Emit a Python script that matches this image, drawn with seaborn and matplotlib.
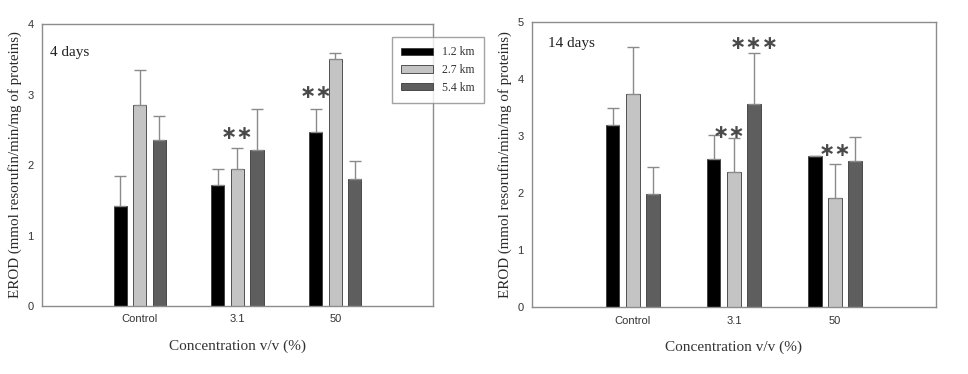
import numpy as np
import pandas as pd
import matplotlib
matplotlib.use("Agg")
import matplotlib.pyplot as plt
import seaborn as sns
from matplotlib.patches import Patch

categories = ["Control", "3.1", "50"]
series = ["1.2 km", "2.7 km", "5.4 km"]

# 4 days
means_4d = {
    "1.2 km": [1.42, 1.71, 2.47],
    "2.7 km": [2.85, 1.95, 3.50],
    "5.4 km": [2.35, 2.21, 1.80],
}
err_4d = {
    "1.2 km": [0.42, 0.23, 0.33],
    "2.7 km": [0.50, 0.29, 0.09],
    "5.4 km": [0.35, 0.58, 0.26],
}
# 14 days
means_14d = {
    "1.2 km": [3.19, 2.60, 2.65],
    "2.7 km": [3.74, 2.37, 1.92],
    "5.4 km": [1.98, 3.56, 2.57],
}
err_14d = {
    "1.2 km": [0.31, 0.42, 0.0],
    "2.7 km": [0.83, 0.60, 0.59],
    "5.4 km": [0.49, 0.90, 0.42],
}

palette = ["#000000", "#c4c4c4", "#5e5e5e"]

sns.set_style("white")
plt.rcParams["font.family"] = ["Liberation Serif", "DejaVu Serif"]

fig = plt.figure(figsize=(9.68, 3.74), dpi=100)
ax1 = fig.add_axes([0.0434, 0.1818, 0.4039, 0.754])
ax2 = fig.add_axes([0.5493, 0.1783, 0.4177, 0.762])


def to_long(means):
    rows = []
    for s in series:
        for c, v in zip(categories, means[s]):
            rows.append({"conc": c, "dist": s, "val": v})
    return pd.DataFrame(rows)


def draw(ax, means, errs, ymax, label, lx, ly):
    df = to_long(means)
    sns.barplot(data=df, x="conc", y="val", hue="dist", order=categories,
                hue_order=series, palette=palette, width=0.6, gap=0.33,
                errorbar=None, edgecolor="#3a3a3a", linewidth=0.6,
                saturation=1, ax=ax, legend=False)
    for cont, s in zip(ax.containers, series):
        xs = [p.get_x() + p.get_width() / 2 for p in cont.patches]
        hs = [p.get_height() for p in cont.patches]
        e = np.array(errs[s])
        ax.errorbar(xs, hs, yerr=[np.zeros_like(e), e], fmt="none",
                    ecolor="#8a8a8a", elinewidth=1.0, capsize=4, capthick=1.0,
                    zorder=1)
    ax.set_xlim(-1, 3)
    ax.set_ylim(0, ymax)
    ax.set_yticks(range(0, ymax + 1))
    for sp in ax.spines.values():
        sp.set_color("#8c8c8c")
        sp.set_linewidth(1.0)
        sp.set_visible(True)
    ax.tick_params(axis="both", direction="out", length=3, width=0.8,
                   color="#8c8c8c", labelsize=8, labelcolor="#333333", pad=3)
    for t in ax.get_xticklabels() + ax.get_yticklabels():
        t.set_fontfamily(["Liberation Sans", "DejaVu Sans"])
    ax.set_xlabel("Concentration v/v (%)", fontsize=11, color="#333333",
                  labelpad=11)
    ax.set_ylabel("EROD (mmol resorufin/min/mg of proteins)", fontsize=10.8,
                  color="#2a2a2a", labelpad=4)
    ax.text(lx, ly, label, transform=ax.transAxes, fontsize=11,
            color="#222222", va="center", ha="left")


draw(ax1, means_4d, err_4d, 4, "4 days", 0.02, 0.9)
draw(ax2, means_14d, err_14d, 5, "14 days", 0.04, 0.925)

star_kw = dict(fontsize=14, fontweight="bold", color="#4a4a4a", ha="center",
               va="center", family=["DejaVu Sans"])
ax1.text(1.0, 2.45, "∗∗", **star_kw)
ax1.text(1.8, 3.03, "∗∗", **star_kw)
ax2.text(1.2, 4.63, "∗∗∗", **star_kw)
ax2.text(0.95, 3.06, "∗∗", **star_kw)
ax2.text(2.0, 2.76, "∗∗", **star_kw)

handles = [Patch(facecolor=c, edgecolor="#3a3a3a", linewidth=0.6)
           for c in palette]
leg = fig.legend(handles, series, loc="upper left",
                 bbox_to_anchor=(0.405, 0.901), fontsize=8.5,
                 frameon=True, fancybox=False, edgecolor="#8c8c8c",
                 handlelength=2.7, handleheight=0.55, labelspacing=0.48,
                 borderpad=0.8, handletextpad=0.75, borderaxespad=0)
for t in leg.get_texts():
    t.set_color("#333333")
leg.get_frame().set_linewidth(1.0)

fig.savefig("out.png", dpi=100)
